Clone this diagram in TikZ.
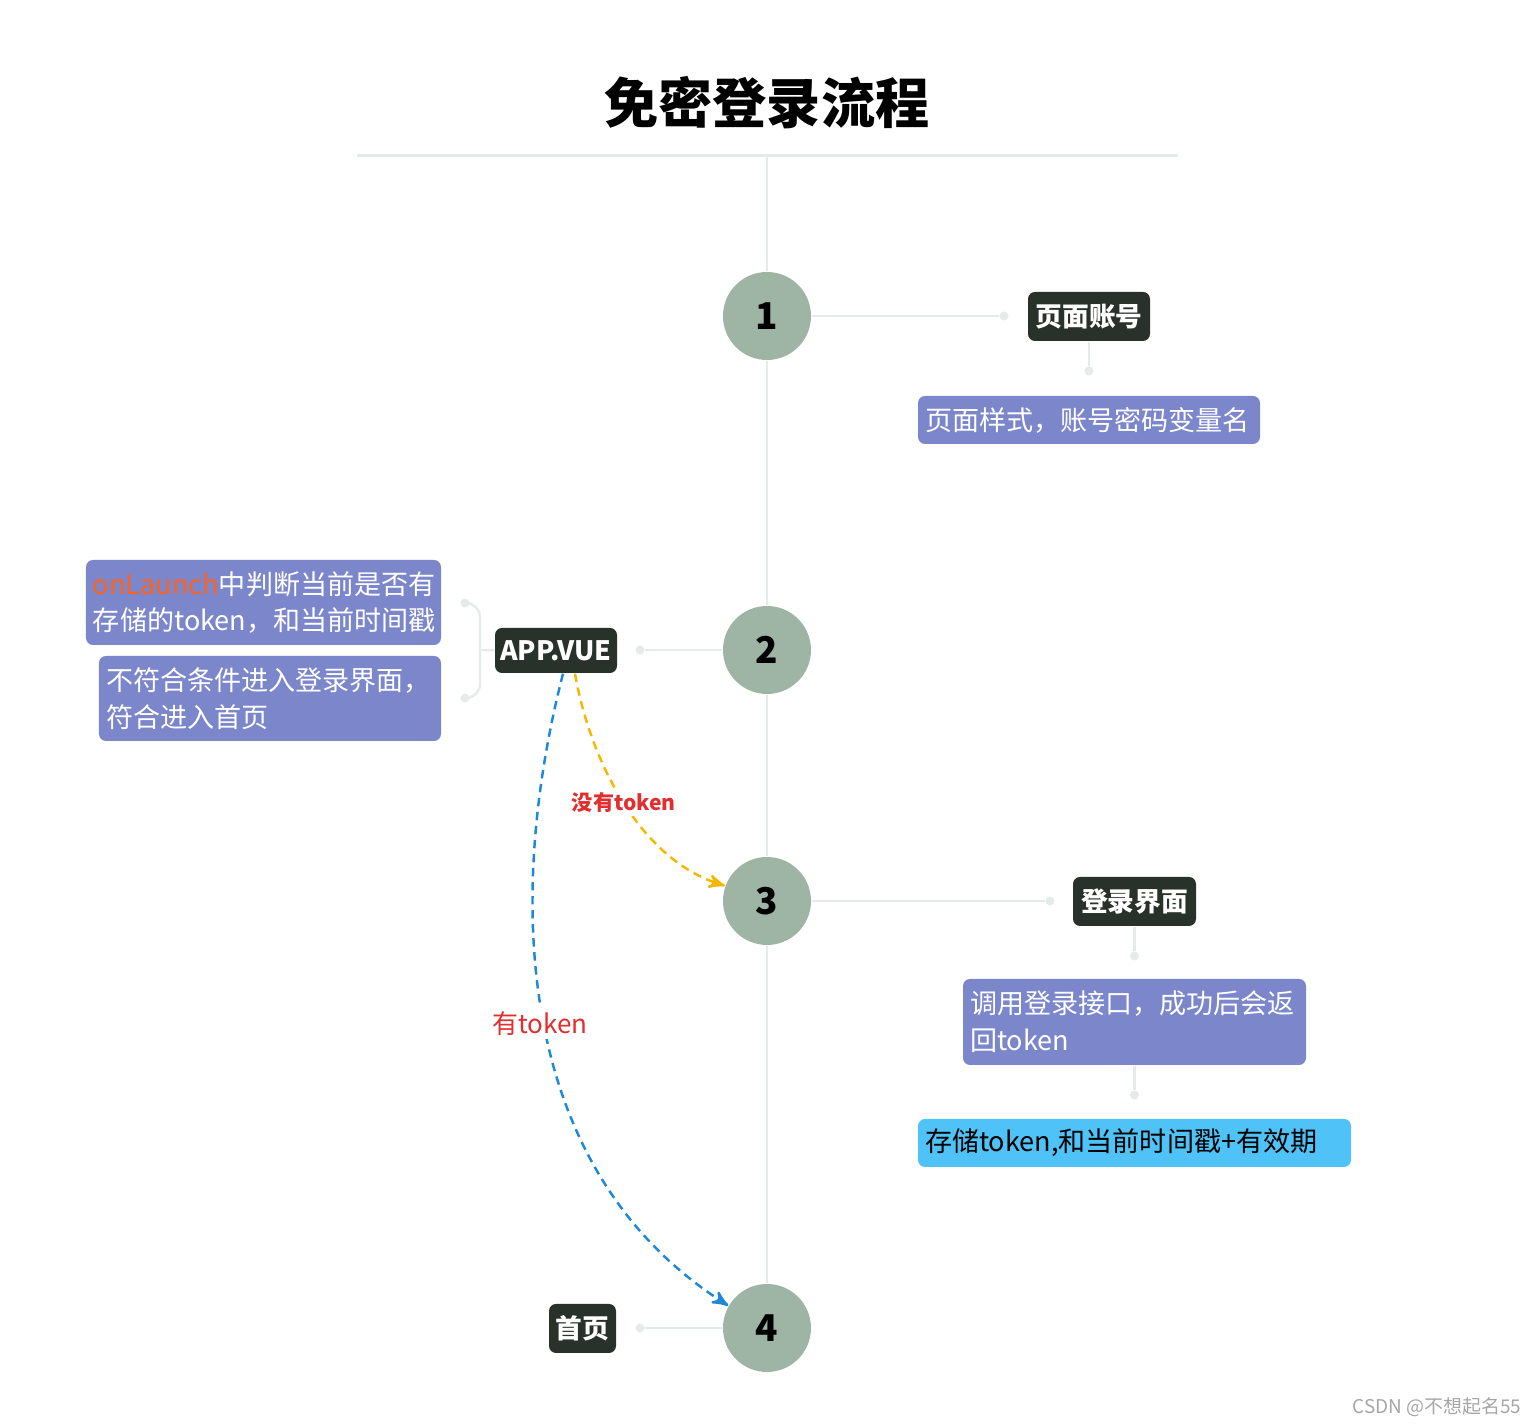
\documentclass[tikz,border=0pt]{standalone}
\usepackage{fontspec}
\setmainfont{Noto Sans CJK SC}
\usepackage{tikz}
\usetikzlibrary{arrows,positioning}
\definecolor{sage}{RGB}{158,181,165}
\definecolor{darkbox}{RGB}{40,50,42}
\definecolor{lav}{RGB}{123,134,203}
\definecolor{sky}{RGB}{79,195,247}
\definecolor{linegray}{RGB}{229,235,233}
\definecolor{goldln}{RGB}{245,184,0}
\definecolor{blueln}{RGB}{30,136,214}
\definecolor{redlbl}{RGB}{226,46,46}
\definecolor{orng}{RGB}{255,98,30}

\begin{document}
\begin{tikzpicture}[>=stealth',
  stepnode/.style={circle, fill=sage, minimum size=0.88cm, inner sep=0pt, font=\fontsize{10.5}{12}\selectfont\bfseries},
  topic/.style={fill=darkbox, rounded corners=2pt, text=white, inner sep=0pt, minimum height=0.49cm, font=\fontsize{7.6}{9}\selectfont\bfseries},
  note/.style={fill=lav, rounded corners=2pt, text=white, inner xsep=0.07cm, inner ysep=0pt, align=left, font=\fontsize{7.7}{10.5}\selectfont},
  dot/.style={circle, fill=linegray, minimum size=0.09cm, inner sep=0pt},
  link/.style={draw=linegray, line width=0.7pt},
  flow/.style={->, dash pattern=on 2.4pt off 1.6pt, line width=0.7pt}]
  \useasboundingbox (0,0) rectangle (15.40,-14.27);

  % title
  \node (title) at (7.67,-1.03) {\fontsize{15.4}{17}\selectfont\bfseries 免密登录流程};
  \coordinate (tl) at (3.57,-1.56);
  \coordinate (tr) at (11.78,-1.56);
  \coordinate (top) at (7.67,-1.56);
  \draw[linegray, line width=0.85pt] (tl) -- (tr);

  % steps
  \node[stepnode] (c1) at (7.67,-3.16) {1};
  \node[stepnode] (c2) at (7.67,-6.50) {2};
  \node[stepnode] (c3) at (7.67,-9.01) {3};
  \node[stepnode] (c4) at (7.67,-13.28) {4};
  \draw[linegray, line width=0.85pt] (top) -- (c1) -- (c2) -- (c3) -- (c4);

  % step 1
  \node[dot] (p1) at (10.04,-3.16) {};
  \node[topic, minimum width=1.22cm] (t1) at (10.89,-3.165) {页面账号};
  \node[dot] (q1) at (10.89,-3.71) {};
  \node[note, text width=3.28cm, minimum height=0.48cm] (n1) at (10.89,-4.20) {页面样式，账号密码变量名};
  \draw[link] (c1) -- (p1);
  \draw[link] (t1) -- (q1);

  % step 2
  \node[dot] (p2) at (6.40,-6.50) {};
  \node[topic, minimum width=1.22cm, minimum height=0.45cm] (app) at (5.56,-6.505) {APP.VUE};
  \node[note, text width=3.41cm, minimum height=0.85cm] (n2a) at (2.635,-6.025) {\textcolor{orng}{onLaunch}中判断当前是否有\\存储的token，和当前时间戳};
  \node[note, text width=3.28cm, minimum height=0.85cm] (n2b) at (2.70,-6.985) {不符合条件进入登录界面，\\符合进入首页};
  \node[dot] (ba) at (4.65,-6.03) {};
  \node[dot] (bb) at (4.65,-6.98) {};
  \coordinate (brk) at (4.80,-6.50);
  \draw[link] (c2) -- (p2);
  \draw[link, rounded corners=4pt] (ba) -| (brk) |- (bb);
  \draw[link] (app) -- (brk);

  % step 3
  \node[dot] (p3) at (10.50,-9.01) {};
  \node[topic, minimum width=1.23cm] (t3) at (11.345,-9.015) {登录界面};
  \node[dot] (q3) at (11.345,-9.56) {};
  \node[note, text width=3.29cm, minimum height=0.86cm] (n3a) at (11.345,-10.22) {调用登录接口，成功后会返\\回token};
  \node[dot] (r3) at (11.345,-10.95) {};
  \node[note, fill=sky, text=black, text width=4.19cm, minimum height=0.48cm] (n3b) at (11.345,-11.43) {存储token,和当前时间戳+有效期};
  \draw[link] (c3) -- (p3);
  \draw[link] (t3) -- (q3);
  \draw[link] (n3a) -- (r3);

  % step 4
  \node[dot] (p4) at (6.40,-13.28) {};
  \node[topic, minimum width=0.67cm] (t4) at (5.825,-13.285) {首页};
  \draw[link] (c4) -- (p4);

  % token checks
  \draw[flow, goldln] ([xshift=0.19cm]app.south) .. controls (5.90,-7.60) and (6.40,-8.60) .. (c3.160)
    node[pos=0.5, fill=white, inner sep=1pt, text=redlbl, font=\fontsize{6}{7}\selectfont\bfseries] (lno) {没有token};
  \draw[flow, blueln] ([xshift=0.07cm]app.south) .. controls (5.05,-9.00) and (5.15,-11.70) .. (c4.150)
    node[pos=0.5, xshift=-0.04cm, fill=white, inner sep=1pt, text=redlbl, font=\fontsize{7.4}{9}\selectfont] (lyes) {有token};

  \node[text=gray!70, font=\fontsize{5.4}{6}\selectfont] (mark) at (14.37,-14.07) {CSDN @不想起名55};
\end{tikzpicture}
\end{document}
